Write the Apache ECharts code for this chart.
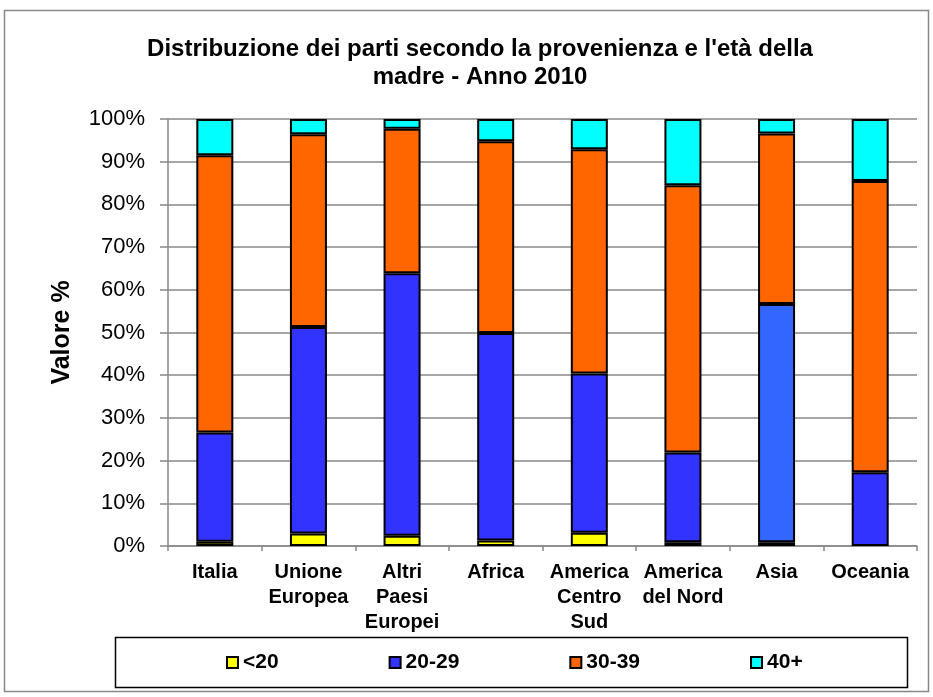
<!DOCTYPE html>
<html><head><meta charset="utf-8">
<script src="https://cdn.jsdelivr.net/npm/echarts@6/dist/echarts.min.js"></script>
<style>html,body{margin:0;padding:0;background:#fff}#c{width:933px;height:697px}</style>
</head><body><div id="c"></div>
<script>
const categories = ['Italia', 'Unione\nEuropea', 'Altri\nPaesi\nEuropei', 'Africa', 'America\nCentro\nSud', 'America\ndel Nord', 'Asia', 'Oceania'];
const seriesNames = ['<20', '20-29', '30-39', '40+'];
const under20 = [1.0, 2.9, 2.4, 1.3, 3.1, 0.9, 0.9, 0.0];
const age20to29 = [25.6, 48.4, 61.5, 48.6, 37.3, 21.0, 55.8, 17.3];
const age30to39 = [64.9, 45.1, 33.8, 44.9, 52.5, 62.6, 39.9, 68.2];
const age40plus = [8.5, 3.6, 2.3, 5.2, 7.1, 15.5, 3.4, 14.5];
const yTicks = [0, 10, 20, 30, 40, 50, 60, 70, 80, 90, 100];

const colors = ['#FFFF00', '#3333FF', '#FF6600', '#00FFFF'];
const allData = [under20, age20to29, age30to39, age40plus];
const FONT = 'Liberation Sans, Arial, sans-serif';

const chart = echarts.init(document.getElementById('c'), null, {renderer: 'canvas'});
const series = allData.map((arr, i) => ({
  name: seriesNames[i],
  type: 'bar',
  stack: 'total',
  barWidth: 37,
  itemStyle: {color: colors[i], borderColor: '#000', borderWidth: 2},
  data: arr.map((v, j) => {
    if (v === 0) return {value: v, itemStyle: {borderWidth: 0}};
    if (i === 1 && categories[j] === 'Asia') return {value: v, itemStyle: {color: '#3366FF'}};
    return v;
  })
}));

chart.setOption({
  animation: false,
  backgroundColor: '#fff',
  textStyle: {fontFamily: FONT},
  title: {
    text: "Distribuzione dei parti secondo la provenienza e l'età della\nmadre - Anno 2010",
    left: 475, top: 30, textAlign: 'center',
    textStyle: {fontFamily: FONT, fontSize: 24, fontWeight: 'bold', color: '#000', lineHeight: 28}
  },
  graphic: [
    {type: 'rect', shape: {x: 4.5, y: 10.5, width: 924, height: 681}, style: {fill: 'none', stroke: '#888', lineWidth: 1.5}, z: -1},
    {type: 'rect', shape: {x: 115.5, y: 637.5, width: 792, height: 50}, style: {fill: 'none', stroke: '#000', lineWidth: 1.5}, z: -1}
  ],
  legend: {
    left: 221, top: 652, padding: [0, 5],
    icon: 'rect', itemWidth: 11, itemHeight: 11, itemGap: 110,
    textStyle: {fontFamily: FONT, fontSize: 21, fontWeight: 'bold', color: '#000'},
    data: seriesNames
  },
  grid: {left: 168, right: 16, top: 119, bottom: 151, containLabel: false},
  xAxis: {
    type: 'category', data: categories,
    axisLine: {lineStyle: {color: '#888', width: 1.5}},
    axisTick: {show: true, length: 5, lineStyle: {color: '#888', width: 1.5}},
    axisLabel: {interval: 0, margin: 14, fontFamily: FONT, fontSize: 20, fontWeight: 'bold', color: '#000', lineHeight: 25, verticalAlign: 'top'}
  },
  yAxis: {
    type: 'value', min: yTicks[0], max: yTicks[yTicks.length - 1], interval: 10,
    name: 'Valore %', nameLocation: 'middle', nameGap: 93, nameRotate: 90,
    nameTextStyle: {fontFamily: FONT, fontSize: 25, fontWeight: 'bold', color: '#000'},
    axisLine: {show: true, lineStyle: {color: '#888', width: 1.5}},
    axisTick: {show: true, length: 8, lineStyle: {color: '#888', width: 1.5}},
    splitLine: {show: true, lineStyle: {color: '#888', width: 1.5}},
    axisLabel: {margin: 23, fontFamily: FONT, fontSize: 22, color: '#000', formatter: v => v + '%'}
  },
  series: series
});
</script>
</body></html>
